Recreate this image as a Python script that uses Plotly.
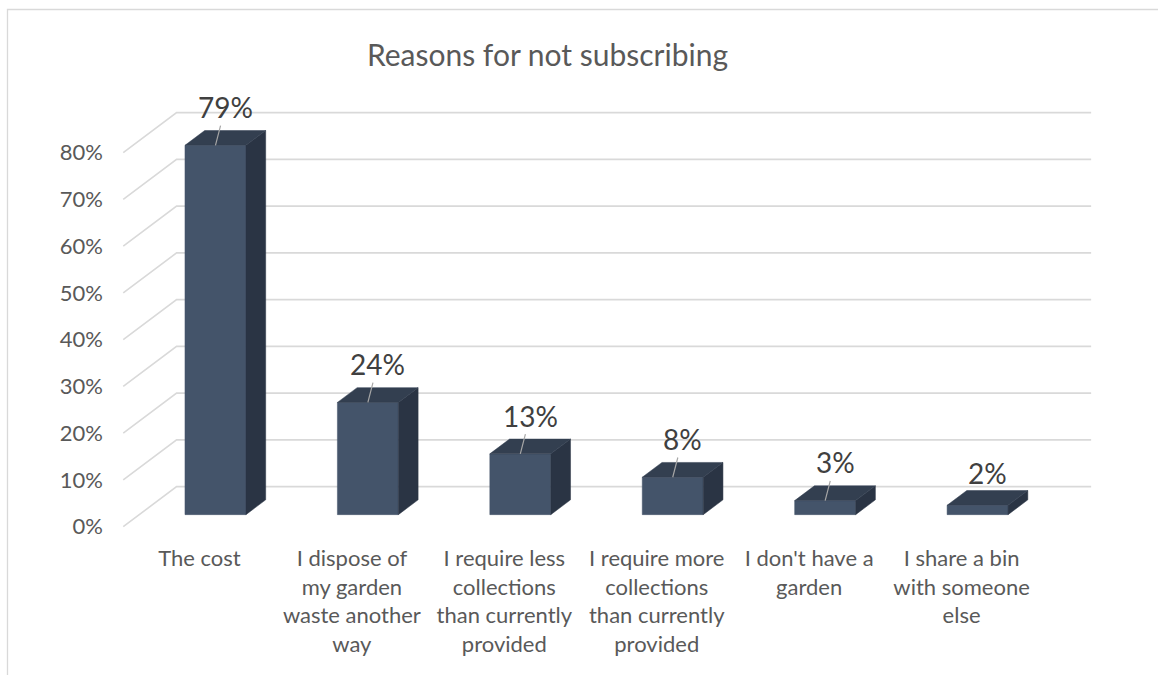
import plotly.graph_objects as go

# ---- data ----
categories = [
    "The cost",
    "I dispose of<br>my garden<br>waste another<br>way",
    "I require less<br>collections<br>than currently<br>provided",
    "I require more<br>collections<br>than currently<br>provided",
    "I don't have a<br>garden",
    "I share a bin<br>with someone<br>else",
]
values = [79, 24, 13, 8, 3, 2]
y_ticks = [0, 10, 20, 30, 40, 50, 60, 70, 80]
title_text = "Reasons for not subscribing"

# ---- layout constants ----
W, H = 1158, 675
ML, MR, MT, MB = 108, 44, 70, 139
PW, PH = W - ML - MR, H - MT - MB
PX_PER_PCT = 4.675
X_RANGE = [-0.6, 6.0]
Y_RANGE = [-2, -2 + PH / PX_PER_PCT]

DX = 0.350   # back-wall x offset (category units)
DY = 8.56    # back-wall y offset (value units)
HALF_W = 0.2
D0, D1 = 0.30, 0.67

FRONT = "#44546A"
TOP = "#333F50"
SIDE = "#2A3444"
GRID = "#D9D9D9"
TXT = "#595959"
FONT = "Lato"

fig = go.Figure()

# wall gridlines (side wall diagonal + back wall)
x0 = -0.5
x1 = len(categories) - 0.5
for v in y_ticks:
    fig.add_trace(go.Scatter(
        x=[x0, x0 + DX, x1 + DX], y=[v, v + DY, v + DY],
        mode="lines", line=dict(color=GRID, width=1.6),
        hoverinfo="skip", showlegend=False))

# bars as 3-D boxes
for i, v in enumerate(values):
    xl0 = i - HALF_W + D0 * DX
    xr0 = i + HALF_W + D0 * DX
    xl1 = i - HALF_W + D1 * DX
    xr1 = i + HALF_W + D1 * DX
    yb0, yb1 = D0 * DY, D1 * DY
    yt0, yt1 = v + D0 * DY, v + D1 * DY
    faces = [
        ([xl0, xr0, xr0, xl0, xl0], [yb0, yb0, yt0, yt0, yb0], FRONT),
        ([xr0, xr1, xr1, xr0, xr0], [yb0, yb1, yt1, yt0, yb0], SIDE),
        ([xl0, xr0, xr1, xl1, xl0], [yt0, yt0, yt1, yt1, yt0], TOP),
    ]
    for fx, fy, col in faces:
        fig.add_trace(go.Scatter(
            x=fx, y=fy, mode="lines", fill="toself", fillcolor=col,
            line=dict(color=col, width=0.5), hoverinfo="skip", showlegend=False))

# data labels with leader lines
for i, v in enumerate(values):
    head_x = i + D0 * DX
    head_y = v + D0 * DY
    lab_x = i + 0.5 * (D0 + D1) * DX
    lab_y = v + 0.5 * (D0 + D1) * DY + 6.6
    label_font = dict(family=FONT, size=28, color="#404040")
    if v >= 3:
        fig.add_annotation(
            x=head_x, y=head_y, ax=lab_x, ay=lab_y, axref="x", ayref="y",
            xref="x", yref="y", text=f"{v}%",
            showarrow=True, arrowhead=0, arrowwidth=1.2, arrowcolor="#A6A6A6",
            font=label_font)
    else:
        fig.add_annotation(
            x=lab_x, y=lab_y - 1.2, xref="x", yref="y", text=f"{v}%",
            showarrow=False, font=label_font)

# chart-area frame (top and left edges visible)
def px2x(px):
    return (px - ML) / PW

def py2y(py):
    return (H - MB - py) / PH

fig.add_shape(type="rect", xref="paper", yref="paper",
              x0=px2x(7.5), x1=px2x(W + 20), y0=py2y(H + 20), y1=py2y(9.5),
              line=dict(color=GRID, width=1.3), layer="below")

fig.update_layout(
    width=W, height=H,
    margin=dict(l=ML, r=MR, t=MT, b=MB),
    paper_bgcolor="white", plot_bgcolor="white",
    title=dict(text=title_text, x=547.5 / W, xanchor="center",
               y=1 - 55 / H, yanchor="middle",
               font=dict(family=FONT, size=30, color=TXT)),
    xaxis=dict(range=X_RANGE, tickmode="array",
               tickvals=list(range(len(categories))), ticktext=categories,
               showgrid=False, zeroline=False, showline=False, ticks="",
               tickfont=dict(family=FONT, size=22, color=TXT),
               ticklabelstandoff=7, fixedrange=True),
    yaxis=dict(range=Y_RANGE, tickmode="array", tickvals=y_ticks,
               ticktext=[f"{t}%" for t in y_ticks],
               showgrid=False, zeroline=False, showline=False, ticks="",
               tickfont=dict(family=FONT, size=22, color=TXT),
               ticklabelstandoff=4, fixedrange=True),
    showlegend=False,
)

fig.write_html("out.html")
